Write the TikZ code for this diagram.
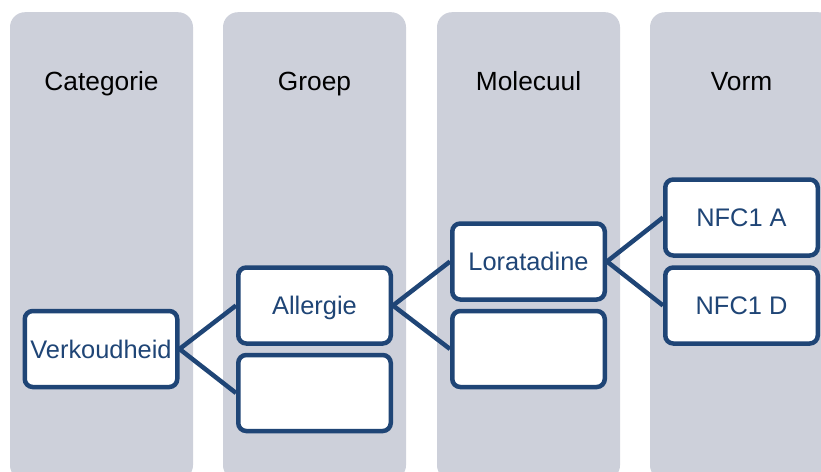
\documentclass[tikz,border=0pt]{standalone}
\usepackage{fontspec}
\setmainfont{Liberation Sans}
\definecolor{lanegray}{RGB}{205,208,218}
\definecolor{navy}{RGB}{31,69,118}
\begin{document}
\begin{tikzpicture}[x=1pt,y=-1pt,
  lane/.style={fill=lanegray, rounded corners=15pt, minimum width=183pt,
    minimum height=468pt, inner sep=0pt, anchor=north},
  header/.style={anchor=base, font=\fontsize{26.3}{30}\selectfont, text=black},
  item/.style={draw=navy, fill=white, line width=4.5pt, rounded corners=8pt,
    minimum width=152.5pt, minimum height=76pt, inner sep=0pt,
    text height=18pt, text depth=0pt, text=navy,
    font=\fontsize{25.4}{30}\selectfont},
  link/.style={draw=navy, line width=4.5pt}]
  \useasboundingbox (0,0) rectangle (821,471);
  \clip (0,0) rectangle (821,471);

  % column lanes
  \node[lane] (lane1) at (101.5,12) {};
  \node[lane] (lane2) at (314.5,12) {};
  \node[lane] (lane3) at (528.5,12) {};
  \node[lane] (lane4) at (741.5,12) {};

  % column headings
  \node[header] (h1) at (101.5,90) {Categorie};
  \node[header] (h2) at (314.5,90) {Groep};
  \node[header] (h3) at (528.5,90) {Molecuul};
  \node[header] (h4) at (741.5,90) {Vorm};

  % tree items
  \node[item] (verk) at (101,349) {Verkoudheid};
  \node[item] (allergie) at (314.5,305.5) {Allergie};
  \node[item] (groep2) at (314.5,393) {};
  \node[item] (lora) at (528.5,261.5) {Loratadine};
  \node[item] (mol2) at (528.5,349) {};
  \node[item] (nfca) at (741.5,217.5) {NFC1 A};
  \node[item] (nfcd) at (741.5,305.5) {NFC1 D};

  % connectors
  \draw[link] (verk.east) -- (allergie.west);
  \draw[link] (verk.east) -- (groep2.west);
  \draw[link] (allergie.east) -- (lora.west);
  \draw[link] (allergie.east) -- (mol2.west);
  \draw[link] (lora.east) -- (nfca.west);
  \draw[link] (lora.east) -- (nfcd.west);
\end{tikzpicture}
\end{document}
